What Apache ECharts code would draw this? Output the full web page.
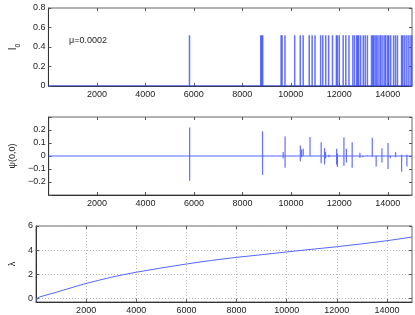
<!DOCTYPE html>
<html><head><meta charset="utf-8">
<script src="https://cdn.jsdelivr.net/npm/echarts@6/dist/echarts.min.js"></script>
<style>html,body{margin:0;padding:0;background:#fff}#c{width:415px;height:315px}</style>
</head><body><div id="c"></div>
<script>
// Panel 1: I0 spike positions and heights
const i0X = [5820, 8760, 8800, 8840, 9600, 9640, 9760, 10160, 10390, 10510, 10760, 10880, 11000, 11230, 11320, 11440, 11560, 11720, 11880, 11920, 12000, 12160, 12270, 12400, 12560, 12630, 12720, 12760, 12800, 12880, 12990, 13070, 13160, 13330, 13380, 13420, 13480, 13540, 13600, 13680, 13720, 13800, 13880, 13920, 14000, 14040, 14120, 14240, 14320, 14400, 14570, 14610, 14680, 14760, 14840, 14920, 14990];
const i0H = 0.52;
// Panel 2: psi(0,0) spikes (position, low, high)
const psiX  = [5820, 8830, 9680, 9760, 10390, 10440, 10510, 10790, 11250, 11390, 11430, 11570, 11890, 11920, 12190, 12290, 12530, 12850, 12970, 13150, 13360, 13520, 13760, 14010, 14110, 14320, 14570, 14790];
const psiLo = [-0.19, -0.145, -0.02, -0.09, -0.04, -0.01, 0, 0, -0.055, -0.065, -0.02, -0.01, -0.065, -0.085, -0.075, -0.05, -0.09, -0.015, -0.01, 0, -0.005, -0.08, -0.05, -0.1, -0.015, -0.01, -0.12, -0.08];
const psiHi = [0.22, 0.19, 0.03, 0.15, 0.08, 0.05, 0.055, 0.146, 0.105, 0.06, 0.03, 0.01, 0.055, 0.02, 0.145, 0.055, 0.105, 0.025, 0, 0.005, 0.14, 0, 0.06, 0.1, 0, 0.03, 0.01, 0.01];
// Panel 3: lambda curve
const lamX = [0, 50, 150, 400, 800, 1200, 1600, 2000, 2500, 3000, 3500, 4000, 5000, 6000, 7000, 8000, 9000, 10000, 11000, 12000, 13000, 14000, 15000];
const lamY = [-0.25, 0.0, 0.12, 0.27, 0.5, 0.75, 1.0, 1.24, 1.5, 1.75, 1.97, 2.17, 2.52, 2.85, 3.15, 3.4, 3.62, 3.85, 4.07, 4.28, 4.52, 4.78, 5.08];
const xTicks = [2000, 4000, 6000, 8000, 10000, 12000, 14000];
const lamTicks = [0, 2, 4, 6];
const annotation = 'μ=0.0002';

const FONT = 'Liberation Sans';
const BLUE = '#3a4cff';
const grids = [
  {left: 36, right: 3, top: 8, height: 78},
  {left: 36, right: 3, top: 117, height: 78},
  {left: 36, right: 3, top: 226, height: 78}
];
function xAx(i, top) {
  return {
    type: 'value', gridIndex: i, min: 0, max: 15000, interval: 2000,
    position: top ? 'top' : 'bottom',
    axisLine: {show: !top, onZero: false, lineStyle: {color: '#333', width: 1}},
    axisTick: {show: true, inside: true, length: 3, customValues: xTicks, lineStyle: {color: '#555'}},
    axisLabel: {show: !top, customValues: xTicks, color: '#222', fontFamily: FONT, fontSize: 9, margin: 4,
      formatter: v => String(v)},
    splitLine: {show: i === 2 && !top, lineStyle: {color: '#bbb', type: [1, 2], width: 1}}
  };
}
function yAx(i, right, opts) {
  return Object.assign({
    type: 'value', gridIndex: i, position: right ? 'right' : 'left',
    axisLine: {show: !right, onZero: false, lineStyle: {color: '#333', width: 1}},
    axisTick: {show: true, inside: true, length: 3, lineStyle: {color: '#555'}},
    axisLabel: {show: !right, color: '#222', fontFamily: FONT, fontSize: 9, margin: 3},
    splitLine: {show: false},
    nameLocation: 'middle',
    nameTextStyle: {color: '#222', fontFamily: FONT, fontSize: 9}
  }, opts);
}
function yOpts(k, right) {
  if (k === 0) return {min: 0, max: 0.8, interval: 0.2, name: right ? '' : '{a|I}{b|0}', nameGap: 24,
    nameTextStyle: {rich: {a: {fontFamily: FONT, fontSize: 10, color: '#222'}, b: {fontFamily: FONT, fontSize: 7, color: '#222', verticalAlign: 'bottom', padding: [0, 0, -4, 0]}}}};
  if (k === 1) return {min: -0.3, max: 0.3, interval: 0.1, name: right ? '' : 'ψ(0,0)', nameGap: 25,
    axisLabel: {show: !right, color: '#222', fontFamily: FONT, fontSize: 9, margin: 3,
      formatter: v => (Math.abs(v) > 0.25 ? '' : (Math.abs(v) < 1e-9 ? '0' : (v < 0 ? '\u2212' + (-v).toFixed(1) : v.toFixed(1))))}};
  return {min: -0.3, max: 6, name: right ? '' : 'λ', nameGap: 15,
    axisTick: {show: true, inside: true, length: 3, customValues: lamTicks, lineStyle: {color: '#555'}},
    axisLabel: {show: !right, customValues: lamTicks, color: '#222', fontFamily: FONT, fontSize: 9, margin: 3},
    splitLine: {show: !right, lineStyle: {color: '#bbb', type: [1, 2], width: 1}}};
}
const xAxis = [], yAxis = [];
for (let k = 0; k < 3; k++) {
  xAxis.push(xAx(k, false)); xAxis.push(xAx(k, true));
  yAxis.push(yAx(k, false, yOpts(k, false)));
  const r = yAx(k, true, yOpts(k, true));
  r.axisLabel = {show: false};
  yAxis.push(r);
}
function spikeRenderer(width) {
  return function (params, api) {
    const x = api.value(0), lo = api.value(1), hi = api.value(2);
    const p1 = api.coord([x, lo]), p2 = api.coord([x, hi]);
    return {type: 'line', shape: {x1: p1[0], y1: p1[1], x2: p2[0], y2: p2[1]},
      style: {stroke: BLUE, lineWidth: width, opacity: 0.8}};
  };
}
const series = [
  {type: 'line', xAxisIndex: 0, yAxisIndex: 0, data: [[0, 0], [15000, 0]], symbol: 'none', lineStyle: {color: BLUE, width: 1}, silent: true},
  {type: 'custom', xAxisIndex: 0, yAxisIndex: 0, renderItem: spikeRenderer(1.5), encode: {x: 0, y: [1, 2]},
    data: i0X.map(x => [x, 0, i0H])},
  {type: 'line', xAxisIndex: 2, yAxisIndex: 2, data: [[0, 0], [15000, 0]], symbol: 'none', lineStyle: {color: '#5566ff', width: 1}, silent: true},
  {type: 'custom', xAxisIndex: 2, yAxisIndex: 2, renderItem: spikeRenderer(1.2), encode: {x: 0, y: [1, 2]},
    data: psiX.map((x, i) => [x, psiLo[i], psiHi[i]])},
  {type: 'line', xAxisIndex: 4, yAxisIndex: 4, data: lamX.map((x, i) => [x, lamY[i]]), symbol: 'none',
    smooth: false, lineStyle: {color: '#5566ff', width: 1}, silent: true}
];
const chart = echarts.init(document.getElementById('c'), null, {renderer: 'canvas'});
chart.setOption({
  animation: false,
  backgroundColor: '#fff',
  grid: grids.map(g => Object.assign({show: true, borderColor: '#666', borderWidth: 1, backgroundColor: 'transparent'}, g)),
  xAxis, yAxis, series,
  graphic: [{type: 'text', left: 69, top: 36, style: {text: annotation, fontFamily: FONT, fontSize: 9, fill: '#222'}}]
});
</script></body></html>
